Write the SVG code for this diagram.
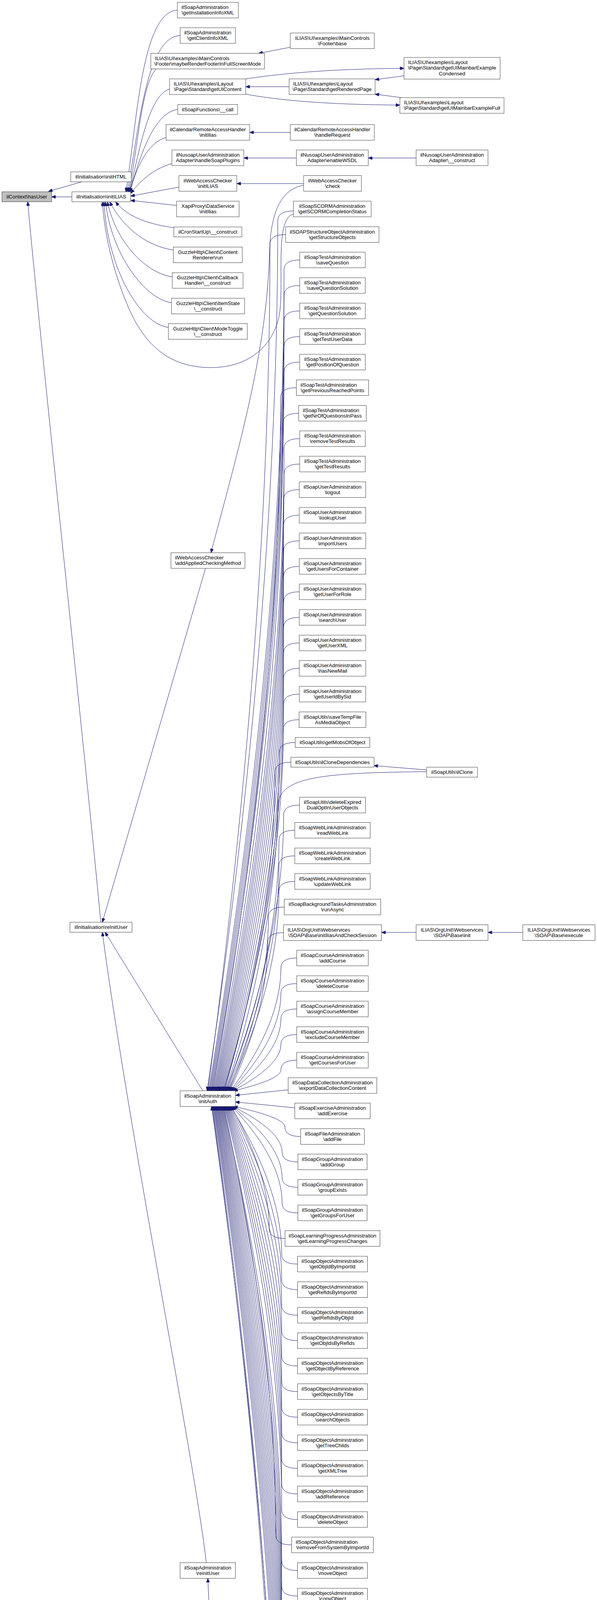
<svg xmlns="http://www.w3.org/2000/svg" width="1528" height="5223" viewBox="0 0 1528 5223">
<defs>
<marker id="ah" viewBox="0 0 10 8" refX="10" refY="4" markerWidth="11" markerHeight="8" markerUnits="userSpaceOnUse" orient="auto"><path d="M0,0 L10,4 L0,8 z" fill="#191970" stroke="#191970" stroke-width="1"/></marker>
</defs>
<style>
.n rect{fill:#fff;stroke:#404040;stroke-width:1}
.n text{font-family:"Liberation Sans",Arial,Helvetica,sans-serif;font-size:13.2px;fill:#000;text-anchor:middle}
.n text.l{text-anchor:start}
#root rect{fill:#bfbfbf}
.e path{fill:none;stroke:#191970;stroke-width:1;marker-end:url(#ah)}
</style>
<rect x="0" y="0" width="1528" height="5223" fill="#fff"/>
<g id="edges" class="e">
<path d="M211,465 L124,490"/>
<path d="M184,504 L132,504"/>
<path d="M258,2361 C215,1900 95,800 71,516.5"/>
<path d="M454,26 C360,30 350,330 322,491"/>
<path d="M461,91 C370,95 355,350 325,491"/>
<path d="M400,176.5 C360,215 352,400 328,491"/>
<path d="M434,228 C375,245 352,420 330,491"/>
<path d="M455,280 C385,290 352,430 331,491"/>
<path d="M425,352 C375,365 345,440 333,491.5"/>
<path d="M440,419 C390,432 355,468 334.5,495"/>
<path d="M458,479 L334.5,502"/>
<path d="M452,526 L334.5,513"/>
<path d="M445,583 C390,575 330,560 296,517"/>
<path d="M443.5,640 C380,630 320,590 281,517"/>
<path d="M441,709 C380,700 300,630 275,517"/>
<path d="M439,775 C370,765 285,650 270,517"/>
<path d="M431,838 C360,830 275,690 266,517"/>
<path d="M751,548 C705,560 725,700 717,790 C710,870 650,941 540,941 C430,941 370,880 330,790 C295,710 268,610 262,517"/>
<path d="M743,121 L662,136.5"/>
<path d="M740,222 L629,222"/>
<path d="M629,202 C720,188 850,176 1034,175"/>
<path d="M1034,194 L960,204"/>
<path d="M629,241 C720,258 850,268 1023.5,269"/>
<path d="M1028,250 L960,241"/>
<path d="M743,339 L639,339"/>
<path d="M758.5,404.5 L624,404.5"/>
<path d="M1065,404.5 L942.5,404.5"/>
<path d="M777,470 L606,470"/>
<path d="M777,474 C720,485 694,540 690,640 C684,900 610,1150 540,1415"/>
<path d="M526,1455 L262,2361"/>
<path d="M519,2792.5 L269,2386.5"/>
<path d="M528,4000.5 C500,3750 330,2900 262,2386.5"/>
<path d="M763,5192 C650,5170 560,4750 532,4040.5"/>
<path d="M1092,1971 L957,1960"/>
<path d="M1065,2387 L976.5,2387"/>
<path d="M1338,2387 L1249,2387"/>
<path d="M751,540 Q711,540 711,565 C711,1341.4 629.6,2122.7 530,2792.5"/>
<path d="M731,600.5 Q691,600.5 691,625.5 C691,1384 619.5,2142.4 532,2792.5"/>
<path d="M767,665.5 Q727,665.5 727,690.5 C727,1426.2 640.2,2161.9 534,2792.5"/>
<path d="M767,731 Q727,731 727,756 C727,1468.8 641.1,2181.5 536.1,2792.5"/>
<path d="M767,796 Q727,796 727,821 C727,1511 642,2201 538.1,2792.5"/>
<path d="M767,861.5 Q727,861.5 727,886.5 C727,1553.6 642.9,2220.7 540.2,2792.5"/>
<path d="M767,927 Q727,927 727,952 C727,1596.2 643.8,2240.3 542.2,2792.5"/>
<path d="M758.5,992.5 Q718,992.5 718,1017.5 C718,1638.8 639.8,2260 544.3,2792.5"/>
<path d="M764.5,1058 Q724,1058 724,1083 C724,1681.3 644,2279.6 546.3,2792.5"/>
<path d="M767,1123 Q727,1123 727,1148 C727,1723.6 646.6,2299.1 548.3,2792.5"/>
<path d="M767,1188 Q727,1188 727,1213 C727,1765.8 647.5,2318.6 550.4,2792.5"/>
<path d="M766,1253.5 Q726,1253.5 726,1278.5 C726,1808.4 647.9,2338.3 552.4,2792.5"/>
<path d="M766,1319 Q726,1319 726,1344 C726,1851 648.8,2357.9 554.5,2792.5"/>
<path d="M766,1384.5 Q726,1384.5 726,1409.5 C726,1893.5 649.7,2377.6 556.5,2792.5"/>
<path d="M766,1450 Q726,1450 726,1475 C726,1936.1 650.6,2397.2 558.5,2792.5"/>
<path d="M766,1515 Q726,1515 726,1540 C726,1978.4 651.6,2416.7 560.6,2792.5"/>
<path d="M766,1580.5 Q726,1580.5 726,1605.5 C726,2021 652.5,2436.4 562.6,2792.5"/>
<path d="M766,1646 Q726,1646 726,1671 C726,2063.5 653.4,2456 564.7,2792.5"/>
<path d="M766,1711 Q726,1711 726,1736 C726,2105.8 654.3,2475.5 566.7,2792.5"/>
<path d="M766,1777 Q726,1777 726,1802 C726,2148.7 655.3,2495.3 568.8,2792.5"/>
<path d="M765.5,1842.5 Q725,1842.5 725,1867.5 C725,2191.3 655.6,2515 570.8,2792.5"/>
<path d="M755.5,1900.75 Q715,1900.75 715,1925.75 C715,2229.1 650.9,2532.5 572.6,2792.5"/>
<path d="M744.5,1951.25 Q704,1951.25 704,1976.25 C704,2262 645.6,2547.6 574.2,2792.5"/>
<path d="M1092,1975.5 C820,1978 716,1990 712,2060 C708,2300 640,2620 575.5,2792.5"/>
<path d="M766.5,2061 Q726,2061 726,2086 C726,2333.3 659.2,2580.5 577.6,2792.5"/>
<path d="M754.5,2125.5 Q714,2125.5 714,2150.5 C714,2375.2 653.5,2599.9 579.6,2792.5"/>
<path d="M754.5,2191 Q714,2191 714,2216 C714,2417.8 654.5,2619.5 581.7,2792.5"/>
<path d="M754.5,2256.5 Q714,2256.5 714,2281.5 C714,2460.4 655.4,2639.2 583.7,2792.5"/>
<path d="M727.5,2322 Q687,2322 687,2347 C687,2502.9 641.5,2658.8 585.8,2792.5"/>
<path d="M725.5,2387.5 Q685,2387.5 685,2412.5 C685,2545.5 641.3,2678.5 587.8,2792.5"/>
<path d="M759.5,2452.5 Q719,2452.5 719,2477.5 C719,2587.8 660.9,2698 589.8,2792.5"/>
<path d="M759.5,2518 Q719,2518 719,2543 C719,2630.3 661.8,2717.6 591.9,2792.5"/>
<path d="M759.5,2583 Q719,2583 719,2608 C719,2672.6 662.7,2737.1 593.9,2792.5"/>
<path d="M759.5,2648.5 Q719,2648.5 719,2673.5 C719,2715.2 663.7,2756.8 596,2792.5"/>
<path d="M759.5,2714 Q719,2714 719,2739 C719,2757.7 664.6,2776.5 598,2792.5"/>
<path d="M737.5,2790 L602.5,2804"/>
<path d="M754.5,2836 L602.5,2821"/>
<path d="M769.5,2909.5 Q729,2909.5 729,2884.5 C729,2866.3 670,2848.1 598,2832.5"/>
<path d="M762.5,2974.5 Q722,2974.5 722,2949.5 C722,2908.5 665.5,2867.6 596.4,2832.5"/>
<path d="M762.5,3039.5 Q722,3039.5 722,3014.5 C722,2950.8 664.8,2887.1 594.8,2832.5"/>
<path d="M762.5,3105 Q722,3105 722,3080 C722,2993.4 664,2906.8 593.2,2832.5"/>
<path d="M729.5,3170.5 Q689,3170.5 689,3145.5 C689,3035.9 645.2,2926.4 591.6,2832.5"/>
<path d="M761.5,3236 Q721,3236 721,3211 C721,3078.5 662,2946.1 590,2832.5"/>
<path d="M761.5,3301.5 Q721,3301.5 721,3276.5 C721,3121.1 661.3,2965.7 588.3,2832.5"/>
<path d="M761.5,3367 Q721,3367 721,3342 C721,3163.7 660.6,2985.4 586.7,2832.5"/>
<path d="M761.5,3432 Q721,3432 721,3407 C721,3205.9 659.8,3004.9 585.1,2832.5"/>
<path d="M761.5,3497 Q721,3497 721,3472 C721,3248.2 659.1,3024.4 583.5,2832.5"/>
<path d="M761.5,3562.5 Q721,3562.5 721,3537.5 C721,3290.7 658.4,3044 581.9,2832.5"/>
<path d="M761.5,3628 Q721,3628 721,3603 C721,3333.3 657.7,3063.7 580.3,2832.5"/>
<path d="M761.5,3693.5 Q721,3693.5 721,3668.5 C721,3375.9 656.9,3083.3 578.6,2832.5"/>
<path d="M761.5,3759 Q721,3759 721,3734 C721,3418.5 656.2,3103 577,2832.5"/>
<path d="M761.5,3824.5 Q721,3824.5 721,3799.5 C721,3461 655.5,3122.6 575.4,2832.5"/>
<path d="M761.5,3890 Q721,3890 721,3865 C721,3503.6 654.8,3142.3 573.8,2832.5"/>
<path d="M746.5,3955 Q706,3955 706,3930 C706,3545.9 645.8,3161.8 572.2,2832.5"/>
<path d="M761.5,4020.5 Q721,4020.5 721,3995.5 C721,3588.5 653.3,3181.4 570.5,2832.5"/>
<path d="M761.5,4086 Q721,4086 721,4061 C721,3631 652.6,3201.1 568.9,2832.5"/>
<path d="M761.5,4151 Q721,4151 721,4126 C721,3673.3 651.8,3220.6 567.3,2832.5"/>
<path d="M761.5,4216.5 Q721,4216.5 721,4191.5 C721,3715.8 651.1,3240.2 565.7,2832.5"/>
<path d="M761.5,4281.5 Q721,4281.5 721,4256.5 C721,3758.1 650.4,3259.7 564.1,2832.5"/>
<path d="M761.5,4347 Q721,4347 721,4322 C721,3800.7 649.7,3279.4 562.5,2832.5"/>
<path d="M761.5,4412.5 Q721,4412.5 721,4387.5 C721,3843.2 648.9,3299 560.8,2832.5"/>
<path d="M761.5,4478 Q721,4478 721,4453 C721,3885.8 648.2,3318.7 559.2,2832.5"/>
<path d="M761.5,4543.5 Q721,4543.5 721,4518.5 C721,3928.4 647.5,3338.3 557.6,2832.5"/>
<path d="M761.5,4609 Q721,4609 721,4584 C721,3971 646.8,3358 556,2832.5"/>
<path d="M761.5,4674 Q721,4674 721,4649 C721,4013.2 646.1,3377.5 554.4,2832.5"/>
<path d="M761.5,4739.5 Q721,4739.5 721,4714.5 C721,4055.8 645.3,3397.1 552.7,2832.5"/>
<path d="M761.5,4805 Q721,4805 721,4780 C721,4098.4 644.5,3416.8 551.1,2832.5"/>
<path d="M761.5,4870 Q721,4870 721,4845 C721,4140.6 643.8,3436.3 549.5,2832.5"/>
<path d="M761.5,4935.5 Q721,4935.5 721,4910.5 C721,4183.2 643.1,3455.9 547.9,2832.5"/>
<path d="M761.5,5000.5 Q721,5000.5 721,4975.5 C721,4225.5 642.4,3475.4 546.3,2832.5"/>
<path d="M755,5066 Q715,5066 715,5041 C715,4268 638.3,3495.1 544.6,2832.5"/>
<path d="M755,5131 Q715,5131 715,5106 C715,4310.3 637.6,3514.5 543,2832.5"/>
<path d="M763,5198 Q723,5198 723,5173 C723,4352.8 641.3,3534.2 541.4,2832.5"/>
</g>
<g id="root" class="n"><rect x="5" y="491" width="127" height="25.5"/><text x="68.5" y="508">ilContext\hasUser</text></g>
<g id="initHTML" class="n"><rect x="181" y="440" width="155" height="25.5"/><text x="258.5" y="457">ilInitialisation\initHTML</text></g>
<g id="initILIAS" class="n"><rect x="184" y="491" width="150.5" height="25.5"/><text x="259.25" y="508">ilInitialisation\initILIAS</text></g>
<g id="reInitUser" class="n"><rect x="179" y="2361" width="159" height="25.5"/><text x="258.5" y="2378">ilInitialisation\reInitUser</text></g>
<g id="getInstallationInfoXML" class="n"><rect x="454" y="6" width="156" height="40"/><text class="l" x="464.5" y="23">ilSoapAdministration</text><text x="532" y="37.3">\getInstallationInfoXML</text></g>
<g id="getClientInfoXML" class="n"><rect x="461" y="71" width="141.5" height="40"/><text x="531.75" y="88">ilSoapAdministration</text><text x="531.75" y="102.3">\getClientInfoXML</text></g>
<g id="maybeRender" class="n"><rect x="386" y="136.5" width="291" height="40"/><text class="l" x="396.5" y="153.5">ILIAS\UI\examples\MainControls</text><text x="531.5" y="167.8">\Footer\maybeRenderFooterInFullScreenMode</text></g>
<g id="getUIContent" class="n"><rect x="434" y="202" width="195" height="40"/><text class="l" x="444.5" y="219">ILIAS\UI\examples\Layout</text><text x="531.5" y="233.3">\Page\Standard\getUIContent</text></g>
<g id="soapCall" class="n"><rect x="455" y="267.5" width="153" height="25.5"/><text x="531.5" y="284.5">ilSoapFunctions\__call</text></g>
<g id="calInit" class="n"><rect x="425" y="319" width="214" height="40"/><text x="532" y="336">ilCalendarRemoteAccessHandler</text><text x="532" y="350.3">\initIlias</text></g>
<g id="handleSoapPlugins" class="n"><rect x="440" y="384" width="184" height="40"/><text x="532" y="401">ilNusoapUserAdministration</text><text x="532" y="415.3">Adapter\handleSoapPlugins</text></g>
<g id="wacInit" class="n"><rect x="458" y="449.5" width="148" height="40"/><text x="532" y="466.5">ilWebAccessChecker</text><text x="532" y="480.8">\initILIAS</text></g>
<g id="xapiInit" class="n"><rect x="452" y="515" width="160" height="40"/><text x="532" y="532">XapiProxy\DataService</text><text x="532" y="546.3">\initIlias</text></g>
<g id="cronCtor" class="n"><rect x="445" y="581" width="174" height="25.5"/><text x="532" y="598">ilCronStartUp\__construct</text></g>
<g id="contentRenderer" class="n"><rect x="443.5" y="632.5" width="176.5" height="40"/><text x="531.75" y="649.5">GuzzleHttp\Client\Content</text><text x="531.75" y="663.8">Renderer\run</text></g>
<g id="callbackHandler" class="n"><rect x="441" y="698" width="181" height="40"/><text x="531.5" y="715">GuzzleHttp\Client\Callback</text><text x="531.5" y="729.3">Handler\__construct</text></g>
<g id="itemState" class="n"><rect x="439" y="763.5" width="187" height="40"/><text x="532.5" y="780.5">GuzzleHttp\Client\ItemState</text><text x="532.5" y="794.8">\__construct</text></g>
<g id="modeToggle" class="n"><rect x="431" y="828.5" width="202" height="40"/><text x="532" y="845.5">GuzzleHttp\Client\ModeToggle</text><text x="532" y="859.8">\__construct</text></g>
<g id="addAppliedCheckingMethod" class="n"><rect x="437.5" y="1415" width="189.5" height="40"/><text class="l" x="448" y="1432">ilWebAccessChecker</text><text x="532.25" y="1446.3">\addAppliedCheckingMethod</text></g>
<g id="initAuth" class="n"><rect x="461" y="2792.5" width="141.5" height="40"/><text x="531.75" y="2809.5">ilSoapAdministration</text><text x="531.75" y="2823.8">\initAuth</text></g>
<g id="reinitUser" class="n"><rect x="461" y="4000.5" width="141.5" height="40"/><text x="531.75" y="4017.5">ilSoapAdministration</text><text x="531.75" y="4031.8">\reinitUser</text></g>
<g id="footerBase" class="n"><rect x="743" y="84.5" width="215" height="40"/><text x="850.5" y="101.5">ILIAS\UI\examples\MainControls</text><text x="850.5" y="115.8">\Footer\base</text></g>
<g id="getRenderedPage" class="n"><rect x="740" y="202" width="220" height="40"/><text class="l" x="750.5" y="219">ILIAS\UI\examples\Layout</text><text x="850" y="233.3">\Page\Standard\getRenderedPage</text></g>
<g id="handleRequest" class="n"><rect x="743" y="319" width="215" height="40"/><text x="850.5" y="336">ilCalendarRemoteAccessHandler</text><text x="850.5" y="350.3">\handleRequest</text></g>
<g id="enableWSDL" class="n"><rect x="758.5" y="384" width="184" height="40"/><text x="850.5" y="401">ilNusoapUserAdministration</text><text x="850.5" y="415.3">Adapter\enableWSDL</text></g>
<g id="wacCheck" class="n"><rect x="777" y="449.5" width="148" height="40"/><text x="851" y="466.5">ilWebAccessChecker</text><text x="851" y="480.8">\check</text></g>
<g id="getSCORMCompletionStatus" class="n"><rect x="751" y="515" width="199" height="40"/><text x="850.5" y="532">ilSoapSCORMAdministration</text><text x="850.5" y="546.3">\getSCORMCompletionStatus</text></g>
<g id="getStructureObjects" class="n"><rect x="731" y="580.5" width="239" height="40"/><text x="850.5" y="597.5">ilSOAPStructureObjectAdministration</text><text x="850.5" y="611.8">\getStructureObjects</text></g>
<g id="saveQuestion" class="n"><rect x="767" y="645.5" width="168" height="40"/><text x="851" y="662.5">ilSoapTestAdministration</text><text x="851" y="676.8">\saveQuestion</text></g>
<g id="saveQuestionSolution" class="n"><rect x="767" y="711" width="168" height="40"/><text x="851" y="728">ilSoapTestAdministration</text><text x="851" y="742.3">\saveQuestionSolution</text></g>
<g id="getQuestionSolution" class="n"><rect x="767" y="776" width="168" height="40"/><text x="851" y="793">ilSoapTestAdministration</text><text x="851" y="807.3">\getQuestionSolution</text></g>
<g id="getTestUserData" class="n"><rect x="767" y="841.5" width="168" height="40"/><text x="851" y="858.5">ilSoapTestAdministration</text><text x="851" y="872.8">\getTestUserData</text></g>
<g id="getPositionOfQuestion" class="n"><rect x="767" y="907" width="168" height="40"/><text x="851" y="924">ilSoapTestAdministration</text><text x="851" y="938.3">\getPositionOfQuestion</text></g>
<g id="getPreviousReachedPoints" class="n"><rect x="758.5" y="972.5" width="185" height="40"/><text class="l" x="769" y="989.5">ilSoapTestAdministration</text><text x="851" y="1003.8">\getPreviousReachedPoints</text></g>
<g id="getNrOfQuestionsInPass" class="n"><rect x="764.5" y="1038" width="173" height="40"/><text class="l" x="775" y="1055">ilSoapTestAdministration</text><text x="851" y="1069.3">\getNrOfQuestionsInPass</text></g>
<g id="removeTestResults" class="n"><rect x="767" y="1103" width="168" height="40"/><text x="851" y="1120">ilSoapTestAdministration</text><text x="851" y="1134.3">\removeTestResults</text></g>
<g id="getTestResults" class="n"><rect x="767" y="1168" width="168" height="40"/><text x="851" y="1185">ilSoapTestAdministration</text><text x="851" y="1199.3">\getTestResults</text></g>
<g id="logout" class="n"><rect x="766" y="1233.5" width="170" height="40"/><text x="851" y="1250.5">ilSoapUserAdministration</text><text x="851" y="1264.8">\logout</text></g>
<g id="lookupUser" class="n"><rect x="766" y="1299" width="170" height="40"/><text x="851" y="1316">ilSoapUserAdministration</text><text x="851" y="1330.3">\lookupUser</text></g>
<g id="importUsers" class="n"><rect x="766" y="1364.5" width="170" height="40"/><text x="851" y="1381.5">ilSoapUserAdministration</text><text x="851" y="1395.8">\importUsers</text></g>
<g id="getUsersForContainer" class="n"><rect x="766" y="1430" width="170" height="40"/><text x="851" y="1447">ilSoapUserAdministration</text><text x="851" y="1461.3">\getUsersForContainer</text></g>
<g id="getUserForRole" class="n"><rect x="766" y="1495" width="170" height="40"/><text x="851" y="1512">ilSoapUserAdministration</text><text x="851" y="1526.3">\getUserForRole</text></g>
<g id="searchUser" class="n"><rect x="766" y="1560.5" width="170" height="40"/><text x="851" y="1577.5">ilSoapUserAdministration</text><text x="851" y="1591.8">\searchUser</text></g>
<g id="getUserXML" class="n"><rect x="766" y="1626" width="170" height="40"/><text x="851" y="1643">ilSoapUserAdministration</text><text x="851" y="1657.3">\getUserXML</text></g>
<g id="hasNewMail" class="n"><rect x="766" y="1691" width="170" height="40"/><text x="851" y="1708">ilSoapUserAdministration</text><text x="851" y="1722.3">\hasNewMail</text></g>
<g id="getUserIdBySid" class="n"><rect x="766" y="1757" width="170" height="40"/><text x="851" y="1774">ilSoapUserAdministration</text><text x="851" y="1788.3">\getUserIdBySid</text></g>
<g id="saveTempFileAsMediaObject" class="n"><rect x="765.5" y="1822.5" width="171" height="40"/><text x="851" y="1839.5">ilSoapUtils\saveTempFile</text><text x="851" y="1853.8">AsMediaObject</text></g>
<g id="getMobsOfObject" class="n"><rect x="755.5" y="1888" width="191" height="25.5"/><text x="851" y="1905">ilSoapUtils\getMobsOfObject</text></g>
<g id="ilCloneDependencies" class="n"><rect x="744.5" y="1938.5" width="213" height="25.5"/><text x="851" y="1955.5">ilSoapUtils\ilCloneDependencies</text></g>
<g id="deleteExpiredDualOptInUserObjects" class="n"><rect x="766.5" y="2041" width="169" height="40"/><text x="851" y="2058">ilSoapUtils\deleteExpired</text><text x="851" y="2072.3">DualOptInUserObjects</text></g>
<g id="readWebLink" class="n"><rect x="754.5" y="2105.5" width="193" height="40"/><text x="851" y="2122.5">ilSoapWebLinkAdministration</text><text x="851" y="2136.8">\readWebLink</text></g>
<g id="createWebLink" class="n"><rect x="754.5" y="2171" width="193" height="40"/><text x="851" y="2188">ilSoapWebLinkAdministration</text><text x="851" y="2202.3">\createWebLink</text></g>
<g id="updateWebLink" class="n"><rect x="754.5" y="2236.5" width="193" height="40"/><text x="851" y="2253.5">ilSoapWebLinkAdministration</text><text x="851" y="2267.8">\updateWebLink</text></g>
<g id="runAsync" class="n"><rect x="727.5" y="2302" width="247" height="40"/><text x="851" y="2319">ilSoapBackgroundTasksAdministration</text><text x="851" y="2333.3">\runAsync</text></g>
<g id="ouInitIliasAndCheckSession" class="n"><rect x="725.5" y="2367.5" width="251" height="40"/><text class="l" x="736" y="2384.5">ILIAS\OrgUnit\Webservices</text><text x="851" y="2398.8">\SOAP\Base\initIliasAndCheckSession</text></g>
<g id="addCourse" class="n"><rect x="759.5" y="2432.5" width="183" height="40"/><text x="851" y="2449.5">ilSoapCourseAdministration</text><text x="851" y="2463.8">\addCourse</text></g>
<g id="deleteCourse" class="n"><rect x="759.5" y="2498" width="183" height="40"/><text x="851" y="2515">ilSoapCourseAdministration</text><text x="851" y="2529.3">\deleteCourse</text></g>
<g id="assignCourseMember" class="n"><rect x="759.5" y="2563" width="183" height="40"/><text x="851" y="2580">ilSoapCourseAdministration</text><text x="851" y="2594.3">\assignCourseMember</text></g>
<g id="excludeCourseMember" class="n"><rect x="759.5" y="2628.5" width="183" height="40"/><text x="851" y="2645.5">ilSoapCourseAdministration</text><text x="851" y="2659.8">\excludeCourseMember</text></g>
<g id="getCoursesForUser" class="n"><rect x="759.5" y="2694" width="183" height="40"/><text x="851" y="2711">ilSoapCourseAdministration</text><text x="851" y="2725.3">\getCoursesForUser</text></g>
<g id="exportDataCollectionContent" class="n"><rect x="737.5" y="2759" width="227" height="40"/><text x="851" y="2776">ilSoapDataCollectionAdministration</text><text x="851" y="2790.3">\exportDataCollectionContent</text></g>
<g id="addExercise" class="n"><rect x="754.5" y="2824" width="193" height="40"/><text x="851" y="2841">ilSoapExerciseAdministration</text><text x="851" y="2855.3">\addExercise</text></g>
<g id="addFile" class="n"><rect x="769.5" y="2889.5" width="163" height="40"/><text x="851" y="2906.5">ilSoapFileAdministration</text><text x="851" y="2920.8">\addFile</text></g>
<g id="addGroup" class="n"><rect x="762.5" y="2954.5" width="177" height="40"/><text x="851" y="2971.5">ilSoapGroupAdministration</text><text x="851" y="2985.8">\addGroup</text></g>
<g id="groupExists" class="n"><rect x="762.5" y="3019.5" width="177" height="40"/><text x="851" y="3036.5">ilSoapGroupAdministration</text><text x="851" y="3050.8">\groupExists</text></g>
<g id="getGroupsForUser" class="n"><rect x="762.5" y="3085" width="177" height="40"/><text x="851" y="3102">ilSoapGroupAdministration</text><text x="851" y="3116.3">\getGroupsForUser</text></g>
<g id="getLearningProgressChanges" class="n"><rect x="729.5" y="3150.5" width="243" height="40"/><text x="851" y="3167.5">ilSoapLearningProgressAdministration</text><text x="851" y="3181.8">\getLearningProgressChanges</text></g>
<g id="getObjIdByImportId" class="n"><rect x="761.5" y="3216" width="179" height="40"/><text x="851" y="3233">ilSoapObjectAdministration</text><text x="851" y="3247.3">\getObjIdByImportId</text></g>
<g id="getRefIdsByImportId" class="n"><rect x="761.5" y="3281.5" width="179" height="40"/><text x="851" y="3298.5">ilSoapObjectAdministration</text><text x="851" y="3312.8">\getRefIdsByImportId</text></g>
<g id="getRefIdsByObjId" class="n"><rect x="761.5" y="3347" width="179" height="40"/><text x="851" y="3364">ilSoapObjectAdministration</text><text x="851" y="3378.3">\getRefIdsByObjId</text></g>
<g id="getObjIdsByRefIds" class="n"><rect x="761.5" y="3412" width="179" height="40"/><text x="851" y="3429">ilSoapObjectAdministration</text><text x="851" y="3443.3">\getObjIdsByRefIds</text></g>
<g id="getObjectByReference" class="n"><rect x="761.5" y="3477" width="179" height="40"/><text x="851" y="3494">ilSoapObjectAdministration</text><text x="851" y="3508.3">\getObjectByReference</text></g>
<g id="getObjectsByTitle" class="n"><rect x="761.5" y="3542.5" width="179" height="40"/><text x="851" y="3559.5">ilSoapObjectAdministration</text><text x="851" y="3573.8">\getObjectsByTitle</text></g>
<g id="searchObjects" class="n"><rect x="761.5" y="3608" width="179" height="40"/><text x="851" y="3625">ilSoapObjectAdministration</text><text x="851" y="3639.3">\searchObjects</text></g>
<g id="getTreeChilds" class="n"><rect x="761.5" y="3673.5" width="179" height="40"/><text x="851" y="3690.5">ilSoapObjectAdministration</text><text x="851" y="3704.8">\getTreeChilds</text></g>
<g id="getXMLTree" class="n"><rect x="761.5" y="3739" width="179" height="40"/><text x="851" y="3756">ilSoapObjectAdministration</text><text x="851" y="3770.3">\getXMLTree</text></g>
<g id="addReference" class="n"><rect x="761.5" y="3804.5" width="179" height="40"/><text x="851" y="3821.5">ilSoapObjectAdministration</text><text x="851" y="3835.8">\addReference</text></g>
<g id="deleteObject" class="n"><rect x="761.5" y="3870" width="179" height="40"/><text x="851" y="3887">ilSoapObjectAdministration</text><text x="851" y="3901.3">\deleteObject</text></g>
<g id="removeFromSystemByImportId" class="n"><rect x="746.5" y="3935" width="209" height="40"/><text class="l" x="757" y="3952">ilSoapObjectAdministration</text><text x="851" y="3966.3">\removeFromSystemByImportId</text></g>
<g id="moveObject" class="n"><rect x="761.5" y="4000.5" width="179" height="40"/><text x="851" y="4017.5">ilSoapObjectAdministration</text><text x="851" y="4031.8">\moveObject</text></g>
<g id="copyObject" class="n"><rect x="761.5" y="4066" width="179" height="40"/><text x="851" y="4083">ilSoapObjectAdministration</text><text x="851" y="4097.3">\copyObject</text></g>
<g id="getPathForRefId" class="n"><rect x="761.5" y="4131" width="179" height="40"/><text x="851" y="4148">ilSoapObjectAdministration</text><text x="851" y="4162.3">\getPathForRefId</text></g>
<g id="deleteRole" class="n"><rect x="761.5" y="4196.5" width="179" height="40"/><text x="851" y="4213.5">ilSoapRBACAdministration</text><text x="851" y="4227.8">\deleteRole</text></g>
<g id="addUserRoleEntry" class="n"><rect x="761.5" y="4261.5" width="179" height="40"/><text x="851" y="4278.5">ilSoapRBACAdministration</text><text x="851" y="4292.8">\addUserRoleEntry</text></g>
<g id="deleteUserRoleEntry" class="n"><rect x="761.5" y="4327" width="179" height="40"/><text x="851" y="4344">ilSoapRBACAdministration</text><text x="851" y="4358.3">\deleteUserRoleEntry</text></g>
<g id="getOperations" class="n"><rect x="761.5" y="4392.5" width="179" height="40"/><text x="851" y="4409.5">ilSoapRBACAdministration</text><text x="851" y="4423.8">\getOperations</text></g>
<g id="revokePermissions" class="n"><rect x="761.5" y="4458" width="179" height="40"/><text x="851" y="4475">ilSoapRBACAdministration</text><text x="851" y="4489.3">\revokePermissions</text></g>
<g id="grantPermissions" class="n"><rect x="761.5" y="4523.5" width="179" height="40"/><text x="851" y="4540.5">ilSoapRBACAdministration</text><text x="851" y="4554.8">\grantPermissions</text></g>
<g id="getLocalRoles" class="n"><rect x="761.5" y="4589" width="179" height="40"/><text x="851" y="4606">ilSoapRBACAdministration</text><text x="851" y="4620.3">\getLocalRoles</text></g>
<g id="getUserRoles" class="n"><rect x="761.5" y="4654" width="179" height="40"/><text x="851" y="4671">ilSoapRBACAdministration</text><text x="851" y="4685.3">\getUserRoles</text></g>
<g id="addRole" class="n"><rect x="761.5" y="4719.5" width="179" height="40"/><text x="851" y="4736.5">ilSoapRBACAdministration</text><text x="851" y="4750.8">\addRole</text></g>
<g id="addRoleFromTemplate" class="n"><rect x="761.5" y="4785" width="179" height="40"/><text x="851" y="4802">ilSoapRBACAdministration</text><text x="851" y="4816.3">\addRoleFromTemplate</text></g>
<g id="getObjectTreeOperations" class="n"><rect x="761.5" y="4850" width="179" height="40"/><text x="851" y="4867">ilSoapRBACAdministration</text><text x="851" y="4881.3">\getObjectTreeOperations</text></g>
<g id="getRoles" class="n"><rect x="761.5" y="4915.5" width="179" height="40"/><text x="851" y="4932.5">ilSoapRBACAdministration</text><text x="851" y="4946.8">\getRoles</text></g>
<g id="searchRoles" class="n"><rect x="761.5" y="4980.5" width="179" height="40"/><text x="851" y="4997.5">ilSoapRBACAdministration</text><text x="851" y="5011.8">\searchRoles</text></g>
<g id="getIMSManifestXML" class="n"><rect x="755" y="5046" width="192" height="40"/><text x="851" y="5063">ilSoapSCORMAdministration</text><text x="851" y="5077.3">\getIMSManifestXML</text></g>
<g id="hasSCORMCertificate" class="n"><rect x="755" y="5111" width="192" height="40"/><text x="851" y="5128">ilSoapSCORMAdministration</text><text x="851" y="5142.3">\hasSCORMCertificate</text></g>
<g id="abstractInitIliasAndCheckSession" class="n"><rect x="763" y="5176.5" width="176" height="40"/><text class="l" x="773.5" y="5193.5">ilAbstractSoapMethod</text><text x="851" y="5207.8">\initIliasAndCheckSession</text></g>
<g id="mainbarCondensed" class="n"><rect x="1034" y="147" width="246" height="55.5"/><text class="l" x="1044.5" y="164">ILIAS\UI\examples\Layout</text><text x="1157" y="178.3">\Page\Standard\getUIMainbarExample</text><text x="1157" y="192.6">Condensed</text></g>
<g id="mainbarFull" class="n"><rect x="1023.5" y="250" width="266.5" height="40"/><text class="l" x="1034" y="267">ILIAS\UI\examples\Layout</text><text x="1156.75" y="281.3">\Page\Standard\getUIMainbarExampleFull</text></g>
<g id="adapterConstruct" class="n"><rect x="1065" y="384" width="184" height="40"/><text x="1157" y="401">ilNusoapUserAdministration</text><text x="1157" y="415.3">Adapter\__construct</text></g>
<g id="ilClone" class="n"><rect x="1092" y="1964" width="130" height="25.5"/><text x="1157" y="1981">ilSoapUtils\ilClone</text></g>
<g id="ouBaseInit" class="n"><rect x="1065" y="2367.5" width="184" height="40"/><text x="1157" y="2384.5">ILIAS\OrgUnit\Webservices</text><text x="1157" y="2398.8">\SOAP\Base\init</text></g>
<g id="ouBaseExecute" class="n"><rect x="1338" y="2367.5" width="185" height="40"/><text x="1430.5" y="2384.5">ILIAS\OrgUnit\Webservices</text><text x="1430.5" y="2398.8">\SOAP\Base\execute</text></g>
</svg>
